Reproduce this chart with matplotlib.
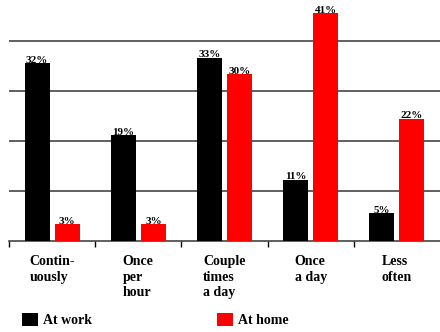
import matplotlib.pyplot as plt
import numpy as np

# Frequência de uso por local
categories = ['Contin-\nuously', 'Once\nper\nhour', 'Couple\ntimes\na day', 'Once\na day', 'Less\noften']
at_work = [32, 19, 33, 11, 5]
at_home = [3, 3, 30, 41, 22]
series_names = ['At work', 'At home']

plt.rcParams['font.family'] = ['Liberation Serif', 'DejaVu Serif']
plt.rcParams['font.weight'] = 'bold'

fig = plt.figure(figsize=(4.4, 3.32), dpi=100)
ax = fig.add_axes([9 / 440, 1 - 240.7 / 332, 431 / 440, 240.7 / 332])

x = np.arange(len(categories)) + 0.5
w = 0.29
b1 = ax.bar(x - 0.175, at_work, w, color='black', label=series_names[0], zorder=3)
b2 = ax.bar(x + 0.175, at_home, w, color='#ff0000', label=series_names[1], zorder=3)

for bars, vals in ((b1, at_work), (b2, at_home)):
    for rect, v in zip(bars, vals):
        ax.text(rect.get_x() + rect.get_width() / 2, v - 0.3, f'{v}%',
                ha='center', va='bottom', fontsize=8, fontweight='bold', zorder=4)

ax.set_xlim(0, 5)
ax.set_ylim(0, 43.4)
ax.set_yticks([9, 18, 27, 36])
ax.yaxis.grid(True, color='#444444', linewidth=1.2, zorder=0)
ax.tick_params(axis='y', length=0, labelleft=False)

ax.set_xticks(np.arange(0, 5))
ax.tick_params(axis='x', direction='out', length=4, width=1, labelbottom=False)
for xi, lab in zip(x, categories):
    ax.text(xi, -2.6, lab, ha='center', va='top', multialignment='left',
            fontsize=10, fontweight='bold', linespacing=1.25)

for side in ('top', 'right', 'left'):
    ax.spines[side].set_visible(False)
ax.spines['bottom'].set_color('#444444')
ax.spines['bottom'].set_linewidth(1.2)

fig.legend(handles=[b1, b2], loc='center left', bbox_to_anchor=(0.05, 0.036),
           ncol=2, frameon=False, borderpad=0, borderaxespad=0,
           handlelength=1.15, handleheight=1.1, columnspacing=9.0,
           handletextpad=0.36, prop={'weight': 'bold', 'size': 10})

fig.savefig('out.png', dpi=100)
